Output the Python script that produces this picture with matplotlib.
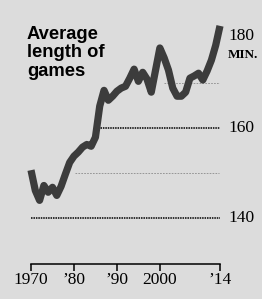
import matplotlib.pyplot as plt

years = list(range(1970, 2015))
minutes = [150.7, 146.2, 144.0, 147.3, 145.8, 146.9, 145.1, 147.1, 149.8, 152.4,
           153.8, 154.7, 155.8, 156.4, 156.0, 158.0, 164.9, 168.4, 166.2, 167.1,
           168.2, 168.9, 169.3, 171.1, 173.1, 170.4, 172.4, 170.9, 168.0, 172.9,
           177.8, 175.6, 172.9, 168.9, 167.1, 167.1, 168.0, 171.1, 171.6, 172.2,
           170.7, 172.7, 175.1, 178.4, 182.7]

tick_years = [1970, 1980, 1990, 2000, 2014]
tick_labels = ['1970', '\u201980', '\u201990', '2000', '\u201914']

bg = '#dcdcdc'
serif = 'Liberation Serif'

fig = plt.figure(figsize=(2.62, 2.99), dpi=100, facecolor=bg)
ax = fig.add_axes([31 / 262, 1 - 263.5 / 299, 189 / 262, (263.5 - 15.5) / 299])
ax.set_facecolor(bg)
ax.set_xlim(1970, 2014)
ax.set_ylim(130, 185)

# reference lines
ax.plot([1970, 2014.2], [140, 140], color='black', lw=1.1, ls=(0, (1, 0.6)), zorder=1)
ax.plot([1985.5, 2014.8], [160, 160], color='black', lw=1.1, ls=(0, (1, 0.6)), zorder=1)
ax.plot([1980.2, 2013.8], [150, 150], color='#8a8a8a', lw=0.6, ls=(0, (2, 1.5)), zorder=1)
ax.plot([2001, 2014], [170, 170], color='#8a8a8a', lw=0.6, ls=(0, (2, 1.5)), zorder=1)

ax.plot(years, minutes, color='#3c3c3c', lw=5.2, solid_joinstyle='round',
        solid_capstyle='butt', zorder=3, clip_on=False)

for spine in ['top', 'right', 'left']:
    ax.spines[spine].set_visible(False)
ax.spines['bottom'].set_linewidth(1.1)
ax.set_yticks([])
ax.set_xticks(tick_years)
ax.set_xticklabels(tick_labels, fontfamily=serif, fontsize=12.5)
ax.tick_params(axis='x', direction='out', length=5, width=1.1, pad=1)

# right-hand value labels
for v, lab in [(180.4, '180'), (160, '160'), (140, '140')]:
    ax.text(2015.9, v, lab, fontfamily=serif, fontsize=12.5, ha='left', va='center')
ax.text(2015.9, 176.3, 'MIN.', fontfamily=serif, fontsize=9.5, fontweight='bold',
        ha='left', va='center')

fig.text(27 / 262, 1 - 26 / 299, 'Average\nlength of\ngames', fontfamily='Liberation Sans',
         fontweight='heavy', fontsize=13.2, ha='left', va='top', linespacing=1.1)

fig.savefig('out.png', dpi=100, facecolor=bg)
